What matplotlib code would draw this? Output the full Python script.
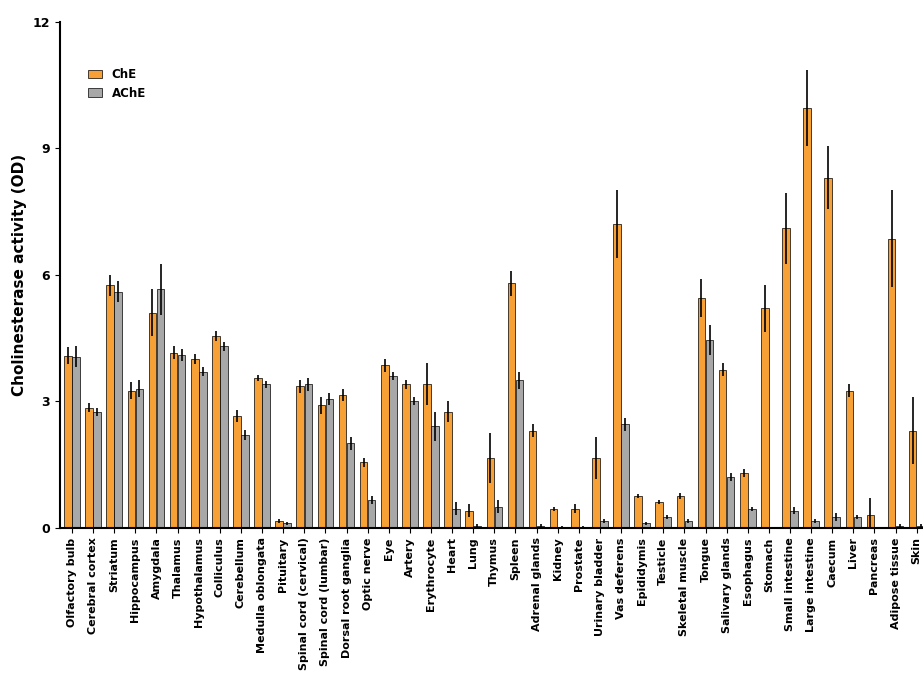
import numpy as np
import matplotlib.pyplot as plt

tissues = ["Olfactory bulb", "Cerebral cortex", "Striatum", "Hippocampus", "Amygdala",
           "Thalamus", "Hypothalamus", "Colliculus", "Cerebellum", "Medulla oblongata",
           "Pituitary", "Spinal cord (cervical)", "Spinal cord (lumbar)", "Dorsal root ganglia",
           "Optic nerve", "Eye", "Artery", "Erythrocyte", "Heart", "Lung", "Thymus", "Spleen",
           "Adrenal glands", "Kidney", "Prostate", "Urinary bladder", "Vas deferens",
           "Epididymis", "Testicle", "Skeletal muscle", "Tongue", "Salivary glands",
           "Esophagus", "Stomach", "Small intestine", "Large intestine", "Caecum", "Liver",
           "Pancreas", "Adipose tissue", "Skin"]
che = [4.08, 2.85, 5.75, 3.25, 5.1, 4.15, 4.0, 4.55, 2.65, 3.55, 0.15, 3.35, 2.9, 3.15,
       1.55, 3.85, 3.4, 3.4, 2.75, 0.4, 1.65, 5.8, 2.3, 0.45, 0.45, 1.65, 7.2, 0.75, 0.6,
       0.75, 5.45, 3.75, 1.3, 5.2, 7.1, 9.95, 8.3, 3.25, 0.3, 6.85, 2.3]
che_err = [0.2, 0.1, 0.25, 0.2, 0.55, 0.15, 0.12, 0.12, 0.15, 0.08, 0.05, 0.15, 0.2, 0.15,
           0.1, 0.15, 0.1, 0.5, 0.25, 0.15, 0.6, 0.3, 0.15, 0.05, 0.1, 0.5, 0.8, 0.05, 0.05,
           0.08, 0.45, 0.15, 0.1, 0.55, 0.85, 0.9, 0.75, 0.15, 0.4, 1.15, 0.8]
ache = [4.05, 2.75, 5.6, 3.3, 5.65, 4.1, 3.7, 4.3, 2.2, 3.4, 0.1, 3.4, 3.05, 2.0,
        0.65, 3.6, 3.0, 2.4, 0.45, 0.05, 0.5, 3.5, 0.05, 0.02, 0.02, 0.15, 2.45, 0.1, 0.25,
        0.15, 4.45, 1.2, 0.45, 0.0, 0.4, 0.15, 0.25, 0.25, 0.0, 0.05, 0.05]
ache_err = [0.25, 0.1, 0.25, 0.2, 0.6, 0.15, 0.1, 0.1, 0.12, 0.08, 0.03, 0.15, 0.15, 0.15,
            0.1, 0.1, 0.1, 0.35, 0.15, 0.03, 0.15, 0.2, 0.03, 0.02, 0.02, 0.05, 0.15, 0.03, 0.05,
            0.05, 0.35, 0.1, 0.05, 0.0, 0.08, 0.05, 0.1, 0.05, 0.0, 0.03, 0.03]

x = np.arange(len(tissues))
w = 0.36
fig = plt.figure(figsize=(9.23, 6.8), dpi=100)
ax = fig.add_axes([0.065, 0.224, 0.935, 0.744])
ax.bar(x - w / 2 - 0.01, che, w, yerr=che_err, color="#F7A035", edgecolor="black", linewidth=0.5,
       error_kw=dict(elinewidth=1.2, capsize=0), label="ChE")
ax.bar(x + w / 2 + 0.01, ache, w, yerr=ache_err, color="#A8A8A8", edgecolor="black", linewidth=0.5,
       error_kw=dict(elinewidth=1.2, capsize=0), label="AChE")
ax.set_xlim(-0.57, 40.3)
ax.set_ylim(0, 12)
ax.set_yticks([0, 3, 6, 9, 12])
ax.set_xticks(x)
ax.set_xticklabels(tissues, rotation=90, fontweight="bold", fontsize=8)
for t in ax.get_yticklabels():
    t.set_fontweight("bold")
    t.set_fontsize(9)
ax.set_ylabel("Cholinesterase activity (OD)", fontweight="bold", fontsize=11)
ax.spines["top"].set_visible(False)
ax.spines["right"].set_visible(False)
ax.spines["left"].set_linewidth(1.5)
ax.spines["bottom"].set_linewidth(1.5)
leg = ax.legend(loc="upper left", bbox_to_anchor=(0.02, 0.93), frameon=False,
                prop={"weight": "bold", "size": 8.5}, handlelength=1.2)
fig.savefig("out.png", dpi=100)
